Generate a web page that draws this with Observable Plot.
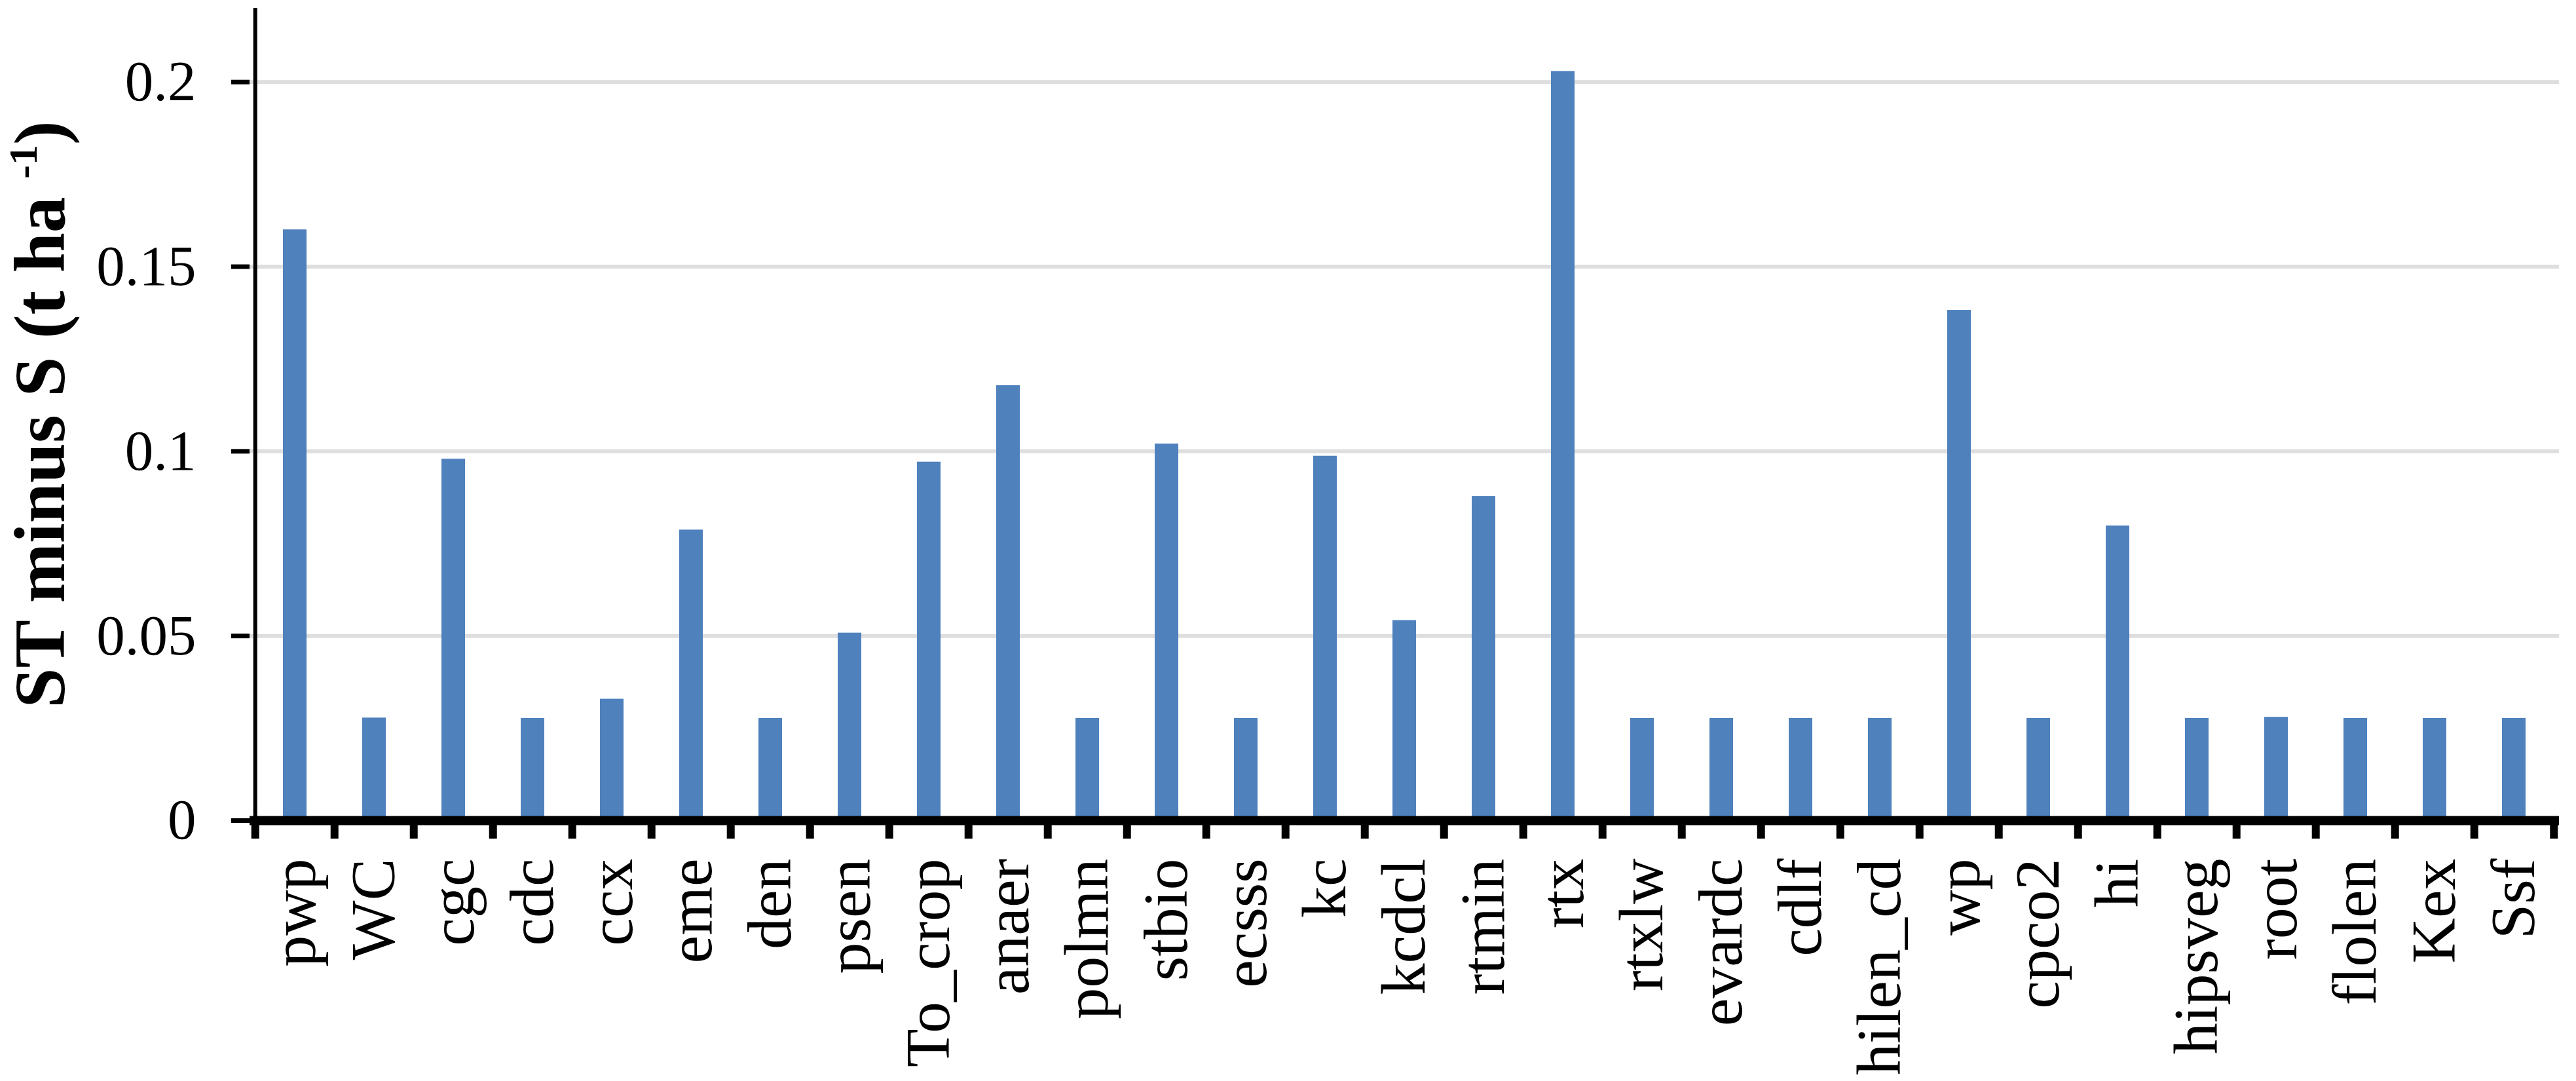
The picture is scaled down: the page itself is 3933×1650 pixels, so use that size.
<!DOCTYPE html>
<html>
<head>
<meta charset="utf-8">
<script src="https://cdn.jsdelivr.net/npm/d3@7"></script>
<script src="https://cdn.jsdelivr.net/npm/@observablehq/plot@0.6"></script>
<style>
  html, body { margin: 0; padding: 0; background: #ffffff; }
  #chart svg { display: block; }
</style>
</head>
<body>
<div id="chart"></div>
<script>
// ---- data ----
const categories = ["pwp","WC","cgc","cdc","ccx","eme","den","psen","To_crop","anaer",
  "polmn","stbio","ecsss","kc","kcdcl","rtmin","rtx","rtxlw","evardc","cdlf",
  "hilen_cd","wp","cpco2","hi","hipsveg","root","flolen","Kex","Ssf"];
const values = [0.160, 0.0278, 0.0979, 0.0277, 0.0329, 0.0787, 0.0277, 0.0508, 0.0971, 0.1178,
  0.0277, 0.1020, 0.0277, 0.0987, 0.0542, 0.0878, 0.2029, 0.0277, 0.0277, 0.0277,
  0.0277, 0.1382, 0.0277, 0.0798, 0.0277, 0.0280, 0.0277, 0.0277, 0.0277];
const yTicks = [0, 0.05, 0.1, 0.15, 0.2];
const gridTicks = [0.05, 0.1, 0.15, 0.2];
const yDomain = [0, 0.22];
const yLabelMain = "ST minus S (t ha ";
const yLabelSup = "-1";
const yLabelEnd = ")";
const yLabel = yLabelMain + yLabelSup + yLabelEnd;

const data = categories.map((name, i) => ({name, value: values[i]}));

// ---- layout ----
const W = 3933, H = 1650;
const ML = 381, MR = 26, MT = 12, MB = 398;
const n = categories.length;
const step = (W - ML - MR) / n;
const font = "'Liberation Serif', 'Times New Roman', Times, serif";

const svg = Plot.plot({
  width: W,
  height: H,
  marginLeft: ML,
  marginRight: MR,
  marginTop: MT,
  marginBottom: MB,
  style: {fontFamily: font, color: "#000", background: "#fff", overflow: "visible"},
  x: {domain: categories, paddingInner: 0.7, paddingOuter: 0.35, label: null},
  y: {domain: yDomain, label: null},
  marks: [
    Plot.ruleY(gridTicks, {stroke: "#dedede", strokeWidth: 6}),
    Plot.barY(data, {x: "name", y: "value", fill: "#4f81bd"}),
    Plot.ruleX([categories[0]], {dx: -step / 2, stroke: "#000", strokeWidth: 6}),
    Plot.ruleY([0], {stroke: "#000", strokeWidth: 14}),
    Plot.axisY({ticks: yTicks, tickSize: 28, tickPadding: 54, fontSize: 87, strokeWidth: 7,
      tickFormat: d => String(d), label: null}),
    Plot.axisX({tickSize: 0, tickPadding: 58, tickRotate: -90, fontSize: 96, label: null}),
    Plot.axisX({ticks: categories, tickSize: 28, strokeWidth: 12, tickFormat: () => "", dx: -step / 2, label: null}),
    Plot.axisX({ticks: [categories[n - 1]], tickSize: 28, strokeWidth: 12, tickFormat: () => "", dx: step / 2, label: null}),
    Plot.text([yLabel], {text: d => d, frameAnchor: "left", textAnchor: "middle", rotate: -90, dx: -319,
      fontSize: 110, fontWeight: "bold", fill: "#000"})
  ]
});

// superscript in the y label
d3.select(svg).selectAll("text").filter(function() { return this.textContent === yLabel; })
  .each(function() {
    const t = d3.select(this);
    t.text(null);
    t.append("tspan").text(yLabelMain);
    t.append("tspan").attr("font-size", 62).attr("dy", -42).text(yLabelSup);
    t.append("tspan").attr("dy", 42).text(yLabelEnd);
  });

document.getElementById("chart").appendChild(svg);
</script>
</body>
</html>
